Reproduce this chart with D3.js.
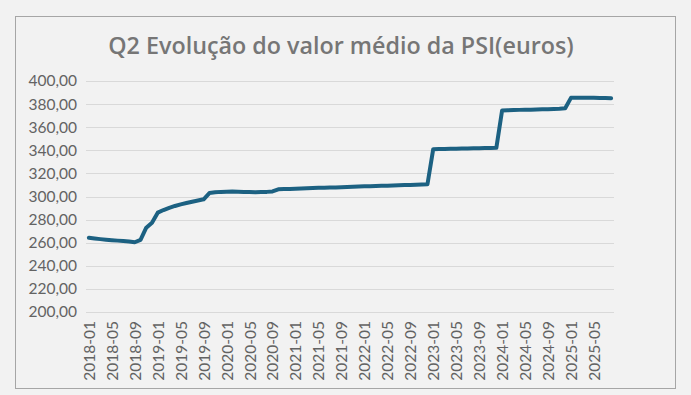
<!DOCTYPE html>
<html>
<head>
<meta charset="utf-8">
<script src="https://cdn.jsdelivr.net/npm/d3@7"></script>
<style>
  body { margin: 0; background: #f2f2f2; }
  svg { display: block; }
</style>
</head>
<body>
<script>
var width = 691, height = 395;

// monthly mean value, 2018-01 .. 2025-08
var years = [2018, 2019, 2020, 2021, 2022, 2023, 2024, 2025];
var values2018 = [264.2, 263.6, 263.1, 262.6, 262.2, 261.8, 261.4, 261.0, 260.4, 262.5, 273.0, 277.3];
var values2019 = [286.0, 288.3, 290.2, 291.8, 293.2, 294.4, 295.5, 296.5, 297.6, 303.0, 303.6, 304.0];
var values2020 = [304.2, 304.3, 304.2, 304.0, 303.8, 303.7, 303.8, 304.0, 304.4, 306.2, 306.4, 306.6];
var values2021 = [306.8, 307.0, 307.1, 307.3, 307.5, 307.6, 307.8, 307.9, 308.1, 308.3, 308.4, 308.6];
var values2022 = [308.8, 308.9, 309.1, 309.2, 309.4, 309.6, 309.7, 309.9, 310.0, 310.2, 310.4, 310.6];
var values2023 = [341.0, 341.1, 341.2, 341.3, 341.4, 341.5, 341.6, 341.7, 341.8, 341.9, 342.0, 342.1];
var values2024 = [374.4, 374.6, 374.8, 375.0, 375.1, 375.2, 375.4, 375.5, 375.6, 375.8, 376.0, 376.4];
var values2025 = [385.4, 385.6, 385.6, 385.5, 385.4, 385.3, 385.2, 385.1];
var yTicks = [200, 220, 240, 260, 280, 300, 320, 340, 360, 380, 400];

var allValues = [values2018, values2019, values2020, values2021, values2022, values2023, values2024, values2025];
var data = [];
allValues.forEach(function(arr, k) {
  arr.forEach(function(v, m) {
    data.push({ month: years[k] + "-" + String(m + 1).padStart(2, "0"), value: v });
  });
});
var months = data.map(function(d) { return d.month; });
var tickMonths = months.filter(function(d, i) { return i % 4 == 0; });

var svg = d3.select("body").append("svg")
    .attr("width", width)
    .attr("height", height);

svg.append("rect")
    .attr("x", 15.5).attr("y", 16.5)
    .attr("width", 660).attr("height", 372)
    .attr("fill", "#f2f2f2")
    .attr("stroke", "#a6a6a6");

svg.append("text")
    .attr("x", 341).attr("y", 54)
    .attr("text-anchor", "middle")
    .style("font-family", "Open Sans")
    .style("font-weight", 600)
    .style("font-size", "23.3px")
    .style("fill", "#767676")
    .text("Q2 Evolução do valor médio da PSI(euros)");

var x = d3.scalePoint().domain(months).range([86, 614]).padding(0.5);
var y = d3.scaleLinear().domain([200, 400]).range([312, 81]);

var yAxis = svg.append("g")
    .attr("transform", "translate(86,0)")
    .call(d3.axisLeft(y).tickValues(yTicks).tickSize(-528).tickPadding(9)
      .tickFormat(function(d) { return d3.format(".2f")(d).replace(".", ","); }));
yAxis.select(".domain").remove();
yAxis.selectAll("line").attr("stroke", "#d9d9d9").attr("shape-rendering", "crispEdges");
yAxis.selectAll("text")
    .style("font-family", "Lato")
    .style("font-size", "15.5px")
    .style("fill", "#636363");

var xAxis = svg.append("g")
    .attr("transform", "translate(0,312)")
    .call(d3.axisBottom(x).tickValues(tickMonths).tickSize(0).tickPadding(0));
xAxis.select(".domain").remove();
xAxis.selectAll("text")
    .attr("transform", "rotate(-90)")
    .attr("x", -9).attr("y", 0).attr("dy", "0.35em")
    .style("text-anchor", "end")
    .style("font-family", "Lato")
    .style("font-size", "15.5px")
    .style("fill", "#636363");

var line = d3.line()
    .x(function(d) { return x(d.month); })
    .y(function(d) { return y(d.value); });

svg.append("path")
    .datum(data)
    .attr("d", line)
    .attr("fill", "none")
    .attr("stroke", "#1c6182")
    .attr("stroke-width", 4)
    .attr("stroke-linejoin", "round")
    .attr("stroke-linecap", "round");
</script>
</body>
</html>
